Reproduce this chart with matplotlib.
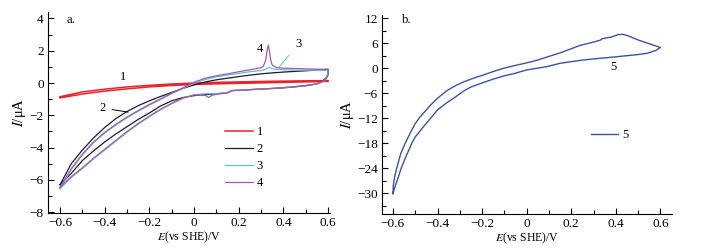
import matplotlib
matplotlib.use('Agg')
import matplotlib.pyplot as plt
from matplotlib.ticker import MultipleLocator

plt.rcParams['font.family'] = ['Liberation Serif', 'DejaVu Serif']
plt.rcParams['mathtext.fontset'] = 'stix'
plt.rcParams['font.size'] = 9

# ---- panel a: curve 1 (red)
e1_up = [-0.6, -0.5, -0.4, -0.3, -0.2, -0.1, 0.0, 0.1, 0.2, 0.3, 0.4, 0.5, 0.6]
i1_up = [-0.85, -0.55, -0.38, -0.24, -0.14, -0.06, 0.0, 0.04, 0.07, 0.1, 0.12, 0.14, 0.15]
e1_dn = [0.6, 0.5, 0.4, 0.3, 0.2, 0.1, 0.0, -0.1, -0.2, -0.3, -0.4, -0.5, -0.6]
i1_dn = [0.1, 0.07, 0.04, 0.01, -0.02, -0.05, -0.09, -0.15, -0.24, -0.36, -0.5, -0.68, -0.92]

# shared potential grid of the anodic / cathodic sweeps
e_up = [-0.6, -0.55, -0.5, -0.45, -0.4, -0.35, -0.3, -0.25, -0.2, -0.15, -0.1, -0.05,
        0.0, 0.05, 0.1, 0.15, 0.2, 0.25, 0.3, 0.35, 0.4, 0.45, 0.5, 0.55, 0.6]
e_dn = [0.6, 0.59, 0.57, 0.55, 0.5, 0.45, 0.4, 0.35, 0.3, 0.25, 0.2, 0.17, 0.15, 0.1,
        0.05, 0.0, -0.05, -0.1, -0.15, -0.2, -0.25, -0.3, -0.35, -0.4, -0.45, -0.5, -0.55, -0.6]

# curve 2 (black)
i2_up = [-6.3, -5.0, -4.15, -3.4, -2.75, -2.2, -1.76, -1.4, -1.1, -0.83, -0.58, -0.33,
         -0.12, 0.07, 0.2, 0.3, 0.4, 0.49, 0.57, 0.63, 0.68, 0.72, 0.76, 0.8, 0.85]
i2_dn = [0.55, 0.3, 0.08, -0.05, -0.17, -0.24, -0.3, -0.34, -0.37, -0.41, -0.45, -0.47, -0.6, -0.67,
         -0.72, -0.78, -0.9, -1.1, -1.42, -1.85, -2.25, -2.7, -3.15, -3.65, -4.2, -4.8, -5.6, -6.3]

# curve 3 (cyan)
e3_up = [-0.6, -0.55, -0.5, -0.45, -0.4, -0.35, -0.3, -0.25, -0.2, -0.15, -0.1, -0.05,
         0.0, 0.05, 0.1, 0.15, 0.2, 0.25, 0.3, 0.32, 0.335, 0.35, 0.4, 0.45, 0.5, 0.55, 0.6]
i3_up = [-6.55, -5.35, -4.45, -3.7, -3.1, -2.6, -2.15, -1.75, -1.37, -1.02, -0.66, -0.33,
         0.0, 0.22, 0.38, 0.5, 0.6, 0.7, 0.78, 0.84, 0.98, 0.88, 0.82, 0.8, 0.8, 0.79, 0.78]
i3_dn = [0.5, 0.25, 0.05, -0.05, -0.15, -0.22, -0.28, -0.33, -0.37, -0.41, -0.45, -0.46, -0.58, -0.66,
         -0.66, -0.72, -0.95, -1.28, -1.65, -2.08, -2.55, -3.05, -3.6, -4.15, -4.7, -5.3, -5.85, -6.55]

# curve 4 (purple)
e4_up = [-0.6, -0.55, -0.5, -0.45, -0.4, -0.35, -0.3, -0.25, -0.2, -0.15, -0.1, -0.05,
         0.0, 0.05, 0.1, 0.15, 0.2, 0.25, 0.3, 0.31, 0.32, 0.328, 0.332, 0.337, 0.343, 0.35,
         0.37, 0.4, 0.45, 0.5, 0.55, 0.6]
i4_up = [-6.45, -5.3, -4.4, -3.65, -3.05, -2.55, -2.1, -1.7, -1.32, -0.98, -0.62, -0.3,
         0.05, 0.3, 0.45, 0.57, 0.7, 0.82, 0.95, 1.05, 1.4, 2.1, 2.35, 2.0, 1.4, 1.1,
         0.95, 0.92, 0.9, 0.88, 0.86, 0.85]
e4_dn = [0.6, 0.59, 0.57, 0.55, 0.5, 0.45, 0.4, 0.35, 0.3, 0.25, 0.2, 0.17, 0.15, 0.1, 0.08,
         0.065, 0.05, 0.0, -0.05, -0.1, -0.15, -0.2, -0.25, -0.3, -0.35, -0.4, -0.45, -0.5, -0.55, -0.6]
i4_dn = [0.5, 0.25, 0.05, -0.05, -0.15, -0.22, -0.28, -0.33, -0.37, -0.41, -0.45, -0.46, -0.6, -0.7, -0.76,
         -0.9, -0.76, -0.74, -0.93, -1.25, -1.62, -2.05, -2.5, -3.0, -3.55, -4.1, -4.65, -5.25, -5.8, -6.45]

# ---- panel b: curve 5
e5_up = [-0.6, -0.598, -0.592, -0.583, -0.565, -0.545, -0.52, -0.5, -0.48, -0.45, -0.434, -0.4,
         -0.359, -0.32, -0.284, -0.25, -0.2, -0.134, -0.1, -0.05, 0.016, 0.05, 0.091, 0.15,
         0.24, 0.3, 0.33, 0.338, 0.38, 0.41, 0.43, 0.45, 0.5, 0.55, 0.6]
i5_up = [-30.1, -28.0, -26.0, -24.0, -20.5, -18.0, -15.3, -13.3, -11.8, -10.0, -9.0, -7.2,
         -5.4, -4.2, -3.3, -2.6, -1.7, -0.5, 0.05, 0.7, 1.5, 2.0, 2.7, 3.7,
         5.5, 6.3, 6.75, 7.1, 7.5, 8.1, 8.15, 7.9, 6.8, 5.9, 5.0]
e5_dn = [0.6, 0.58, 0.54, 0.5, 0.39, 0.3, 0.24, 0.15, 0.091, 0.0, -0.059, -0.1, -0.15, -0.209,
         -0.25, -0.284, -0.32, -0.359, -0.4, -0.434, -0.47, -0.5, -0.515, -0.54, -0.563,
         -0.575, -0.59, -0.6]
i5_dn = [5.0, 4.3, 3.6, 3.3, 2.7, 2.25, 1.9, 1.2, 0.4, -0.4, -1.3, -1.8, -2.6, -3.7,
         -4.5, -5.5, -6.9, -8.3, -10.0, -12.2, -14.5, -16.5, -18.0, -21.0, -24.0,
         -26.0, -28.3, -30.1]

red = '#e8232b'
black = '#1c1c2c'
cyan = '#5ec3d3'
purple = '#a75aa9'
blue = '#3c52a6'


def style(ax):
    for s in ['top', 'right']:
        ax.spines[s].set_visible(False)
    ax.xaxis.set_major_locator(MultipleLocator(0.2))
    ax.xaxis.set_minor_locator(MultipleLocator(0.1))
    ax.tick_params(which='both', direction='in', width=0.8, labelsize=9.5, pad=3)
    ax.tick_params(which='major', length=4)
    ax.tick_params(which='minor', length=3)
    ax.set_xticks([-0.6, -0.4, -0.2, 0, 0.2, 0.4, 0.6])
    ax.set_xticklabels(['\u22120.6', '\u22120.4', '\u22120.2', '0', '0.2', '0.4', '0.6'])
    ax.set_xlabel('$E$(vs SHE)/V', labelpad=0, fontsize=8.5)
    ax.set_ylabel('$I$/\u03bcA', labelpad=1, fontsize=10.5)


fig = plt.figure(figsize=(7.09, 2.5), dpi=100)
ax1 = fig.add_axes([0.0677, 0.148, 0.398, 0.804])
ax2 = fig.add_axes([0.5388, 0.144, 0.409, 0.796])

lw = 0.9
ax1.plot(e1_up + e1_dn, i1_up + i1_dn, color=red, lw=lw + 0.2, label='1')
ax1.plot(e_up + e_dn, i2_up + i2_dn, color=black, lw=lw, label='2')
ax1.plot(e3_up + e_dn, i3_up + i3_dn, color=cyan, lw=lw, label='3')
ax1.plot(e4_up + e4_dn, i4_up + i4_dn, color=purple, lw=lw, label='4')
ax1.set_xlim(-0.654, 0.609)
ax1.set_ylim(-8.05, 4.4)
ax1.yaxis.set_major_locator(MultipleLocator(2))
ax1.yaxis.set_minor_locator(MultipleLocator(1))
style(ax1)
ax1.text(0.067, 0.96, 'a.', transform=ax1.transAxes, va='center')
ax1.text(-0.318, 0.37, '1', ha='center', va='center')
ax1.annotate('2', xy=(-0.295, -1.8), xytext=(-0.412, -1.55), ha='center', va='center',
             arrowprops=dict(arrowstyle='-', color='black', lw=0.7, shrinkA=3, shrinkB=0))
ax1.text(0.296, 2.11, '4', ha='center', va='center')
ax1.annotate('3', xy=(0.381, 1.0), xytext=(0.466, 2.42), ha='center', va='center',
             arrowprops=dict(arrowstyle='-', color=cyan, lw=0.7, shrinkA=4, shrinkB=0))
ax1.legend(loc='center left', bbox_to_anchor=(0.628, 0.274), frameon=False, borderpad=0,
           borderaxespad=0, handlelength=2.2, handletextpad=0.3, labelspacing=0.4)

ax2.plot(e5_up + e5_dn, i5_up + i5_dn, color=blue, lw=lw + 0.1, label='5')
ax2.set_xlim(-0.649, 0.652)
ax2.set_ylim(-35, 12.8)
ax2.yaxis.set_minor_locator(MultipleLocator(3))
style(ax2)
ax2.set_yticks([-30, -24, -18, -12, -6, 0, 6, 12])
ax2.set_yticklabels(['\u221230', '\u221224', '\u221218', '\u221212', '\u22126', '0', '6', '12'])
ax2.text(0.069, 0.975, 'b.', transform=ax2.transAxes, va='center')
ax2.text(0.387, 0.3, '5', ha='center', va='center')
ax2.legend(loc='center left', bbox_to_anchor=(0.72, 0.397), frameon=False, borderpad=0,
           borderaxespad=0, handlelength=2.2, handletextpad=0.3)

fig.savefig('out.png', dpi=100)
